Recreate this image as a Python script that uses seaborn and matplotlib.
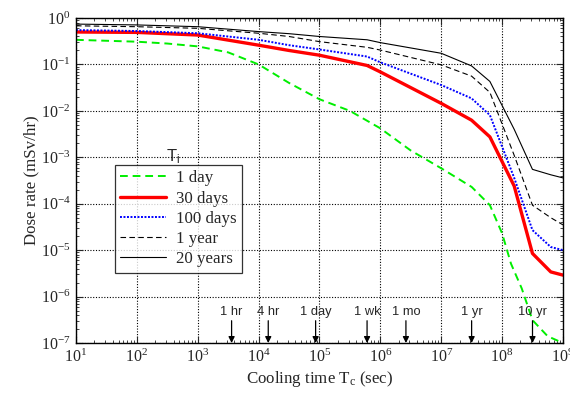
import matplotlib
matplotlib.use("Agg")
import matplotlib.pyplot as plt
import seaborn as sns
import pandas as pd
import numpy as np
from matplotlib.ticker import LogLocator, LogFormatterMathtext, NullFormatter

# ---------------- data ----------------
t_green = [10, 100, 316, 1e3, 3160, 1e4, 3.16e4, 1e5, 3.16e5, 1e6, 3.16e6, 1e7,
           3.16e7, 6.3e7, 1e8, 1.4e8, 2.1e8, 3.16e8, 5.6e8, 1e9]
dose_1day = [0.339, 0.309, 0.282, 0.245, 0.182, 0.100, 0.040, 0.0178, 0.010, 0.0042,
             0.0014, 5.8e-4, 2.3e-4, 9.3e-5, 2.3e-5, 5.1e-6, 1.5e-6, 3.1e-7, 1.4e-7, 1.0e-7]

t_common = [10, 100, 1e3, 1e4, 3.16e4, 1e5, 6.05e5, 1e6, 1e7, 3.15e7, 6.3e7,
            1.58e8, 3.15e8, 6.3e8, 1e9]
dose_30days = [0.50, 0.49, 0.43, 0.26, 0.20, 0.158, 0.095, 0.069, 0.0145, 0.0063,
               0.00275, 2.4e-4, 8.5e-6, 3.4e-6, 2.9e-6]
dose_100days = [0.55, 0.525, 0.47, 0.34, 0.26, 0.21, 0.148, 0.111, 0.036, 0.0186,
                0.0081, 3.6e-4, 2.7e-5, 1.17e-5, 1.0e-5]
dose_1year = [0.68, 0.65, 0.60, 0.47, 0.40, 0.31, 0.234, 0.204, 0.098, 0.056,
              0.025, 1.1e-3, 9.3e-5, 5.0e-5, 3.5e-5]
dose_20years = [0.74, 0.71, 0.65, 0.51, 0.46, 0.40, 0.34, 0.295, 0.174, 0.093,
                0.043, 4.0e-3, 5.5e-4, 4.2e-4, 3.6e-4]

series_labels = ["1 day", "30 days", "100 days", "1 year", "20 years"]

marker_times = [3600, 14400, 86400, 604800, 2.63e6, 3.156e7, 3.156e8]
marker_labels = ["1 hr", "4 hr", "1 day", "1 wk", "1 mo", "1 yr", "10 yr"]

# ---------------- style ----------------
sns.set_style("ticks")
plt.rcParams["font.family"] = ["Liberation Serif", "DejaVu Serif"]
plt.rcParams["mathtext.fontset"] = "custom"
plt.rcParams["mathtext.rm"] = "Liberation Serif"
plt.rcParams["mathtext.sf"] = "Liberation Sans"
plt.rcParams["mathtext.it"] = "Liberation Serif:italic"

fig = plt.figure(figsize=(5.7, 3.96), dpi=100)
ax = fig.add_axes([0.1333, 0.1338, 0.8544, 0.8207])

styles = [
    (t_green, dose_1day, "#00ee00", (0, (4, 2.5)), 1.4),
    (t_common, dose_30days, "#ff0000", "-", 2.4),
    (t_common, dose_100days, "#0000ff", (0, (1, 0.8)), 1.4),
    (t_common, dose_1year, "black", (0, (5, 3)), 0.8),
    (t_common, dose_20years, "black", "-", 0.8),
]
for (tx, dy, col, ls, lw), lab in zip(styles, series_labels):
    df = pd.DataFrame({"t": tx, "d": dy})
    sns.lineplot(data=df, x="t", y="d", ax=ax, color=col, linestyle=ls,
                 linewidth=lw, label=lab, sort=False, estimator=None)

ax.set_xscale("log")
ax.set_yscale("log")
ax.set_xlim(10, 1e9)
ax.set_ylim(1e-7, 1)

ax.xaxis.set_major_locator(LogLocator(base=10, numticks=20))
ax.yaxis.set_major_locator(LogLocator(base=10, numticks=20))
ax.xaxis.set_minor_locator(LogLocator(base=10, subs=np.arange(2, 10), numticks=100))
ax.yaxis.set_minor_locator(LogLocator(base=10, subs=np.arange(2, 10), numticks=100))
ax.xaxis.set_major_formatter(LogFormatterMathtext())
ax.yaxis.set_major_formatter(LogFormatterMathtext())
ax.xaxis.set_minor_formatter(NullFormatter())
ax.yaxis.set_minor_formatter(NullFormatter())

ax.tick_params(which="both", direction="in", top=True, right=True, labelsize=11.5)
ax.tick_params(which="major", length=5, width=0.8)
ax.tick_params(which="minor", length=2.5, width=0.6)
ax.tick_params(axis="both", which="major", pad=4)
for s in ax.spines.values():
    s.set_linewidth(1.0)
    s.set_color("black")

ax.grid(True, which="major", color="black", linestyle=(0, (1, 1.5)), linewidth=0.8)

ax.set_xlabel(r"Cooling time T$_{\rm c}$ (sec)", fontsize=12.2, labelpad=2)
ax.set_ylabel("Dose rate (mSv/hr)", fontsize=12.2, labelpad=1)

leg = ax.legend(loc="upper left", bbox_to_anchor=(0.080, 0.548), borderaxespad=0,
                fontsize=12.2, frameon=True, fancybox=False, edgecolor="black",
                handlelength=2.7, handletextpad=0.6, labelspacing=0.25,
                borderpad=0.32)
leg.get_frame().set_linewidth(0.9)

ax.text(10**2.6, 10**-2.98, r"T$_\mathsf{i}$", fontsize=12,
        family=["Liberation Sans"], ha="center", va="center")

for tm, lab in zip(marker_times, marker_labels):
    ax.annotate("", xy=(tm, 1e-7), xytext=(tm, 10**-6.52),
                arrowprops=dict(arrowstyle="-|>", color="black", lw=0.9,
                                mutation_scale=9, shrinkA=0, shrinkB=0))
    ax.text(tm, 10**-6.33, lab, fontsize=9.3, family=["Liberation Sans"],
            ha="center", va="center")

fig.savefig("out.png", dpi=100)
